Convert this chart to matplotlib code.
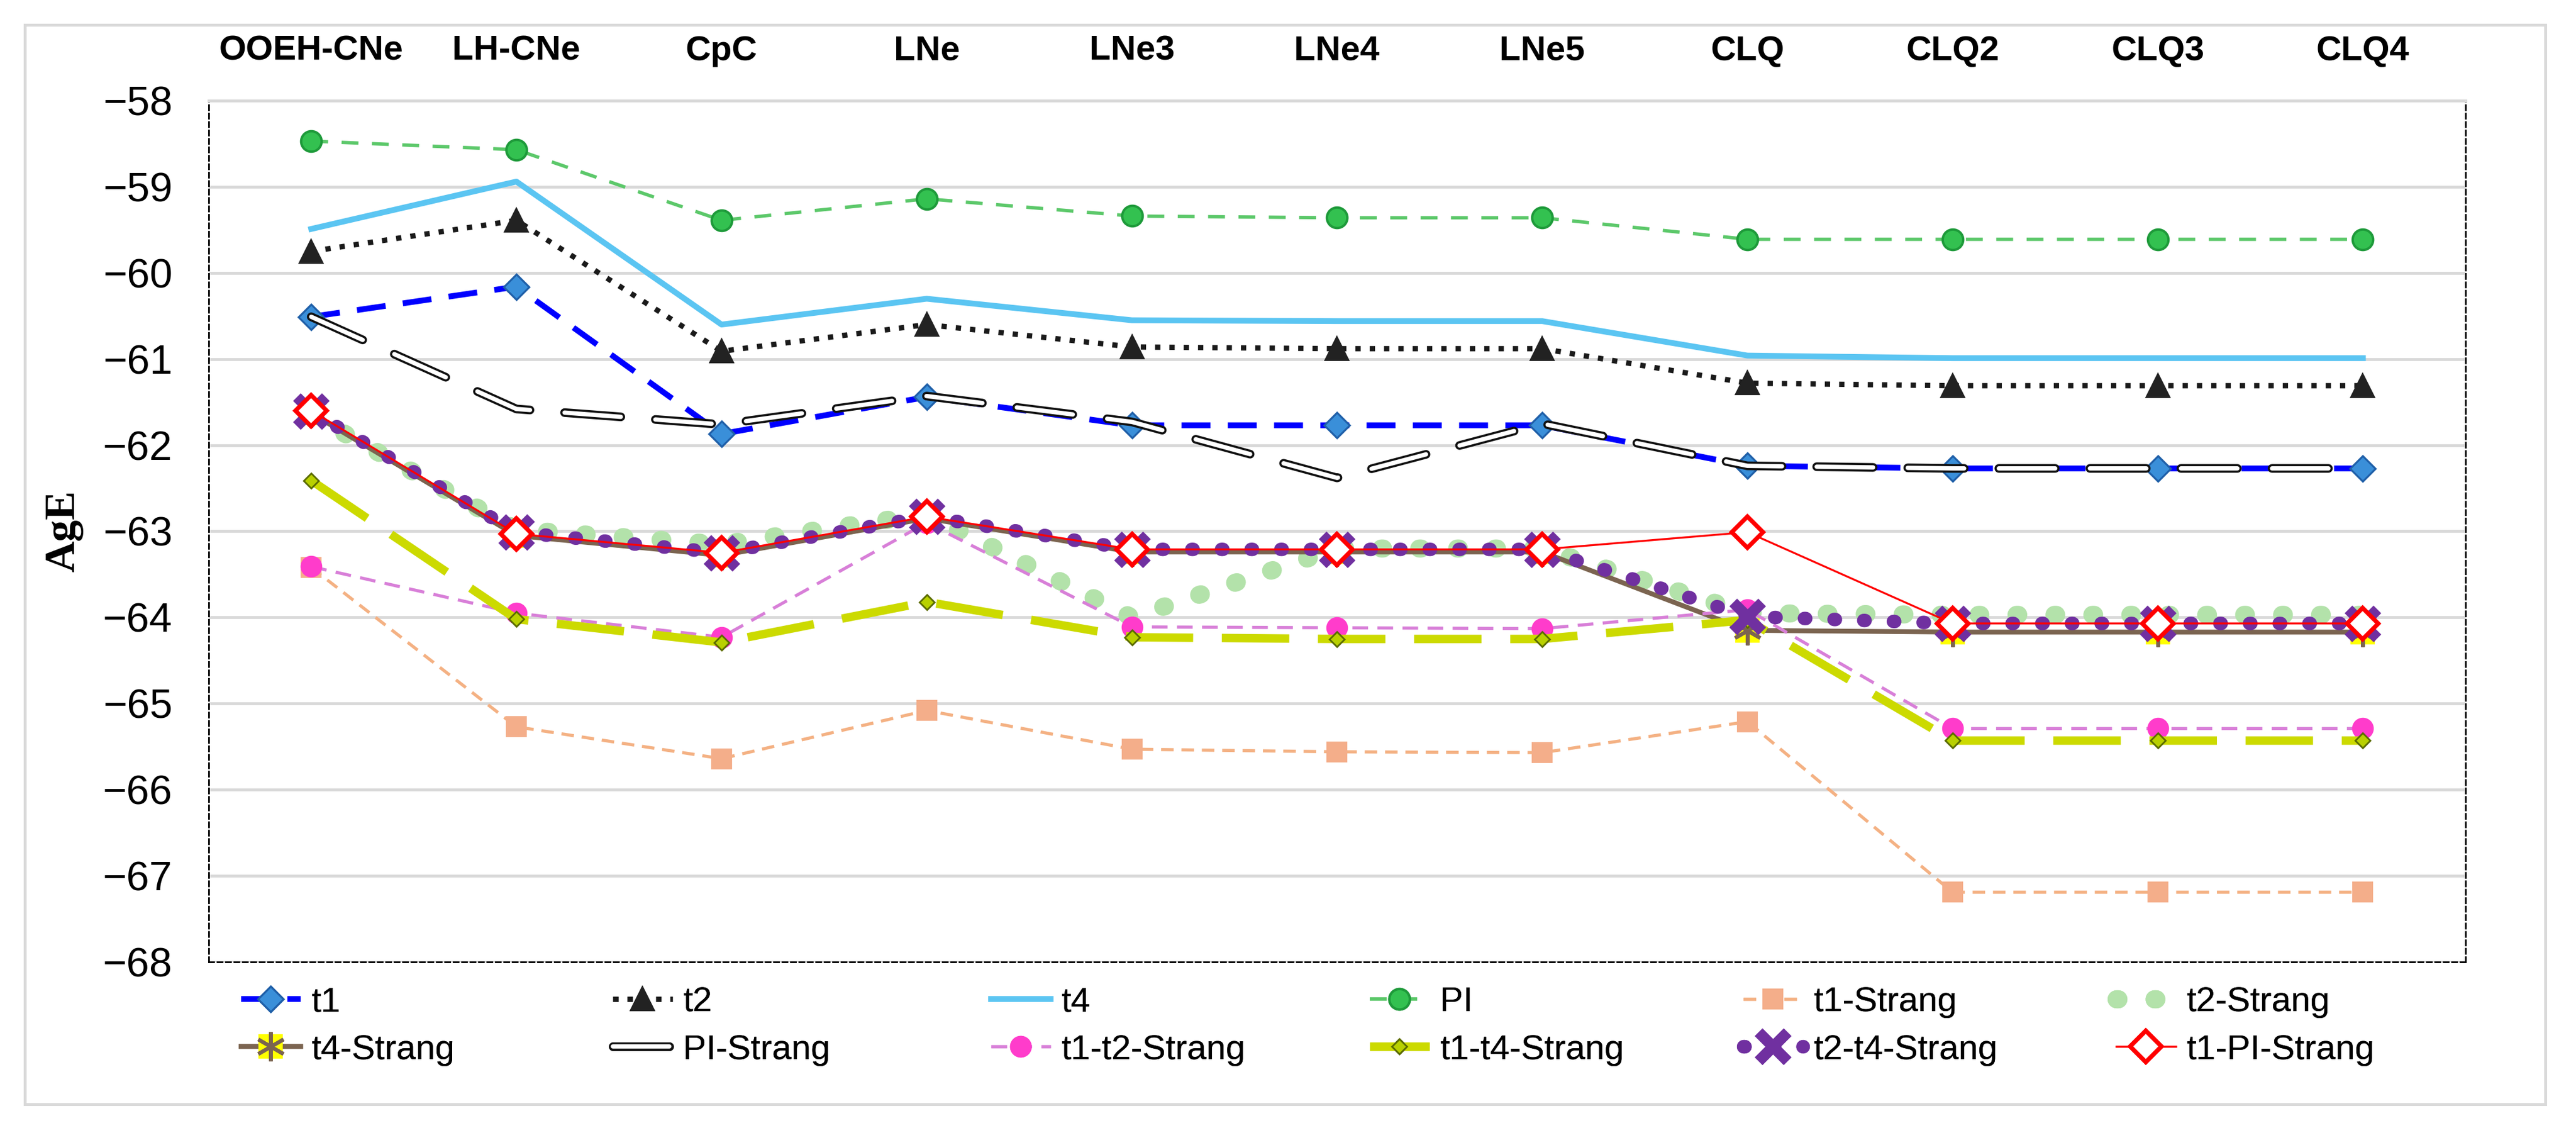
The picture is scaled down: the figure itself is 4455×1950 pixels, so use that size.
import matplotlib
matplotlib.use('Agg')
import matplotlib.pyplot as plt
import matplotlib.patheffects as pe
from matplotlib.patches import Rectangle
from matplotlib.legend_handler import HandlerTuple
from matplotlib import font_manager

# data
cats = ['OOEH-CNe', 'LH-CNe', 'CpC', 'LNe', 'LNe3', 'LNe4', 'LNe5', 'CLQ', 'CLQ2', 'CLQ3', 'CLQ4']
t1 = [-60.51, -60.16, -61.87, -61.44, -61.77, -61.77, -61.77, -62.24, -62.27, -62.27, -62.27]
t2 = [-59.75, -59.39, -60.91, -60.60, -60.86, -60.88, -60.88, -61.28, -61.31, -61.31, -61.31]
t4 = [-59.49, -58.94, -60.60, -60.30, -60.55, -60.56, -60.56, -60.96, -60.99, -60.99, -60.99]
PI = [-58.47, -58.57, -59.39, -59.14, -59.34, -59.36, -59.36, -59.61, -59.61, -59.61, -59.61]
t1_s = [-63.42, -65.27, -65.64, -65.08, -65.53, -65.56, -65.57, -65.21, -67.19, -67.19, -67.19]
t2_s = [-61.65, -62.98, -63.15, -62.80, -64.00, -63.20, -63.20, -63.95, -63.97, -63.97, -63.97]
t4_s = [-61.63, -63.05, -63.28, -62.85, -63.24, -63.24, -63.24, -64.15, -64.17, -64.17, -64.17]
pi_s = [-60.51, -61.58, -61.76, -61.43, -61.73, -62.38, -61.75, -62.24, -62.27, -62.27, -62.27]
t12_s = [-63.41, -63.95, -64.23, -62.90, -64.11, -64.12, -64.13, -63.91, -65.29, -65.29, -65.29]
t14_s = [-62.41, -64.02, -64.29, -63.82, -64.23, -64.25, -64.25, -64.03, -65.43, -65.43, -65.43]
t24_s = [-61.61, -63.01, -63.25, -62.83, -63.21, -63.21, -63.21, -63.99, -64.07, -64.07, -64.07]
t1pi_s = [-61.60, -63.03, -63.25, -62.83, -63.21, -63.21, -63.21, -63.01, -64.07, -64.07, -64.07]
yticks = [-58, -59, -60, -61, -62, -63, -64, -65, -66, -67, -68]

have = {f.name for f in font_manager.fontManager.ttflist}
narrow = 'Liberation Sans Narrow' if 'Liberation Sans Narrow' in have else 'Liberation Sans'
nsize = 17 if narrow == 'Liberation Sans Narrow' else 14.5

x = list(range(len(cats)))

fig = plt.figure(figsize=(14.85, 6.5), dpi=300)
ax = fig.add_axes([0.081, 0.1472, 0.8761, 0.7636])

l_t1, = ax.plot(x, t1, color='#0000FF', lw=2.4, ls=(0, (5, 3)), marker='D', ms=7.5,
                mfc='#3A8FD9', mec='#1F5FA8', mew=0.8, zorder=3)
l_t2, = ax.plot(x, t2, color='#1A1A1A', lw=2.2, ls=(0, (1, 1.7)), marker='^', ms=9,
                mfc='#222222', mec='#222222', zorder=4)
l_t4, = ax.plot(x, t4, color='#5BC5F2', lw=2.4, zorder=5)
l_pi, = ax.plot(x, PI, color='#5CC86A', lw=1.4, ls=(0, (5, 4)), marker='o', ms=8.5,
                mfc='#33C150', mec='#1E9A3A', mew=1, zorder=6)
l_t1s, = ax.plot(x, t1_s, color='#F4B183', lw=1.3, ls=(0, (4, 2.5)), marker='s', ms=7.5,
                 mfc='#F4AE8A', mec='#F4AE8A', zorder=7)
l_t2s, = ax.plot(x, t2_s, color='#B3E2AA', lw=7.5, ls=(0, (0.1, 2.0)), dash_capstyle='round', zorder=8)
l_t4s_a, = ax.plot(x, t4_s, color='#7B6450', lw=2, marker='s', ms=9,
                   mfc='#FFFF00', mec='#FFFF00', zorder=9)
l_t4s_b, = ax.plot(x, t4_s, ls='none', marker=(6, 2, 0), ms=12, mec='#7B6450', mew=1.5, zorder=9)
l_pis, = ax.plot(x, pi_s, color='white', lw=1.8, ls=(0, (13, 8)), dash_capstyle='round',
                 path_effects=[pe.Stroke(linewidth=3.6, foreground='#111111'), pe.Normal()], zorder=10)
l_t12s, = ax.plot(x, t12_s, color='#D87FD8', lw=1.3, ls=(0, (5, 3)), marker='o', ms=8,
                  mfc='#FF3CCB', mec='#FF3CCB', zorder=11)
l_t14s, = ax.plot(x, t14_s, color='#CCDA00', lw=3.5, ls=(0, (8, 3.4)), marker='D', ms=4.5,
                  mfc='#B8D000', mec='#5A6B00', mew=0.7, zorder=12)
l_t24s, = ax.plot(x, t24_s, color='#7030A0', lw=5.6, ls=(0, (0.1, 2.1)), dash_capstyle='round',
                  marker='x', ms=12, mec='#7030A0', mew=4.5, zorder=13)
l_t1pis, = ax.plot(x, t1pi_s, color='#FF0000', lw=0.8, marker='D', ms=9,
                   mfc='white', mec='#FF0000', mew=1.8, zorder=14)

ax.set_xlim(-0.5, len(cats) - 0.5)
ax.set_ylim(-68, -58)
ax.set_yticks(yticks)
ax.set_xticks(x)
ax.set_xticklabels(cats, fontfamily=narrow, fontweight='bold', fontsize=nsize)
ax.xaxis.tick_top()
ax.tick_params(axis='x', length=0, pad=14)
ax.tick_params(axis='y', length=0, pad=15, labelsize=17)
for t in ax.get_yticklabels():
    t.set_fontfamily('Liberation Sans')
ax.grid(axis='y', color='#D9D9D9', lw=1.2)
ax.set_axisbelow(True)
for s in ['left', 'right', 'bottom']:
    ax.spines[s].set_linestyle((0, (3, 2)))
    ax.spines[s].set_linewidth(0.7)
ax.spines['top'].set_color('#D9D9D9')
ax.spines['top'].set_linewidth(1.2)
ax.set_ylabel('AgE', fontfamily='Liberation Serif', fontweight='bold', fontsize=18, labelpad=8)

# legend: 6 columns x 2 rows, placed column by column
columns = [
    ([l_t1, (l_t4s_a, l_t4s_b)], ['t1', 't4-Strang']),
    ([l_t2, l_pis], ['t2', 'PI-Strang']),
    ([l_t4, l_t12s], ['t4', 't1-t2-Strang']),
    ([l_pi, l_t14s], ['PI', 't1-t4-Strang']),
    ([l_t1s, l_t24s], ['t1-Strang', 't2-t4-Strang']),
    ([l_t2s, l_t1pis], ['t2-Strang', 't1-PI-Strang']),
]
col_x = [417, 1060, 1714, 2369, 3015, 3660]
for (hs, labs), cx in zip(columns, col_x):
    leg = fig.legend(hs, labs, loc='center left', bbox_to_anchor=(cx / 4455, 1 - 1774 / 1950),
                     frameon=False, borderpad=0, borderaxespad=0, handlelength=1.7,
                     handletextpad=0.3, labelspacing=0.45, numpoints=1,
                     prop={'family': narrow, 'size': nsize},
                     handler_map={tuple: HandlerTuple(ndivide=1)})
    fig.add_artist(leg)

fig.patches.append(Rectangle((43 / 4455, 1 - 1909 / 1950), (4402 - 43) / 4455, (1909 - 43) / 1950,
                             transform=fig.transFigure, fill=False, edgecolor='#D9D9D9', lw=1.2))

fig.savefig('out.png', dpi=300)
